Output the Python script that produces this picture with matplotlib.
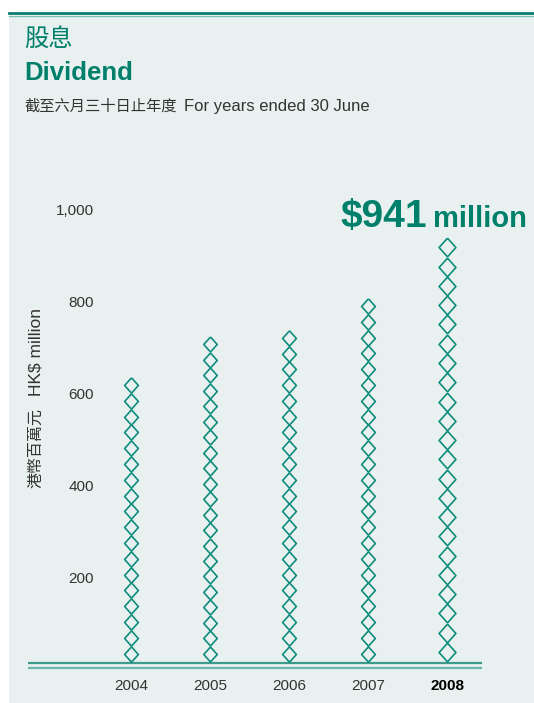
import numpy as np
import matplotlib
matplotlib.use("Agg")
import matplotlib.pyplot as plt
from matplotlib.patches import Rectangle
from matplotlib.lines import Line2D
from matplotlib.transforms import blended_transform_factory

plt.rcParams['font.family'] = ['Liberation Sans', 'Noto Sans CJK TC', 'DejaVu Sans']

# data (HK$ million)
years = ['2004', '2005', '2006', '2007', '2008']
dividend = [638, 726, 741, 810, 941]
yticks = [200, 400, 600, 800, 1000]
ytick_labels = ['200', '400', '600', '800', '1,000']

TEAL = '#00806B'
DIAMOND = '#0F8C7C'
BG = '#E8F1F0'
GREY = '#333333'
CJK = ['Noto Sans CJK TC']

W, H, DPI = 534, 703, 100
fig = plt.figure(figsize=(W / DPI, H / DPI), dpi=DPI)
fig.patch.set_facecolor('white')

# panel background + top rule
fig.add_artist(Rectangle((9 / W, 0), 1, (H - 16) / H, transform=fig.transFigure,
                         facecolor=BG, edgecolor='none', zorder=0))
fig.add_artist(Line2D([9 / W, 1], [(H - 13) / H] * 2, transform=fig.transFigure,
                      color='#0B7F6E', lw=2.0))
fig.add_artist(Line2D([9 / W, 1], [(H - 15.8) / H] * 2, transform=fig.transFigure,
                      color='#7FBFB5', lw=1.0))

# titles
fig.text(24 / W, 1 - 39 / H, '股息', color=TEAL, fontsize=17.5, va='center', family=CJK)
fig.text(24 / W, 1 - 80 / H, 'Dividend', color=TEAL, fontsize=18.5, fontweight='bold',
         va='baseline')
fig.text(24 / W, 1 - 111 / H, '截至六月三十日止年度', color=GREY, fontsize=11,
         va='baseline', family=CJK)
fig.text(184 / W, 1 - 111 / H, 'For years ended 30 June', color=GREY, fontsize=12,
         va='baseline')

# axes: zero at y=670.7px, 1000 at y=210.7px; baseline spans x 28..482
ax_left, ax_right = 28, 482
ax_bottom, ax_top = 670.7, 210.7
ax = fig.add_axes([ax_left / W, (H - ax_bottom) / H, (ax_right - ax_left) / W,
                   (ax_bottom - ax_top) / H])
ax.set_facecolor('none')
for s in ax.spines.values():
    s.set_visible(False)

x0px, dx = 131, 79
ax.set_xlim(-(x0px - ax_left) / dx, 4 + (ax_right - (x0px + 4 * dx)) / dx)
ax.set_ylim(0, 1000)

# baseline double rule
ax.axhline(17, color='#3E9A8B', lw=1.6, zorder=1)
ax.axhline(5.5, color='#6DB5A9', lw=1.6, zorder=1)

# diamond stacks
px_per_unit = (ax_bottom - ax_top) / 1000
base = 20
diamond = [(0, 1), (0.9, 0), (0, -1), (-0.9, 0), (0, 1)]
for i, v in enumerate(dividend):
    pitch = 42 if i == len(dividend) - 1 else 34
    n = int(round((v - base) / pitch))
    h = (v - base) / n
    ys = base + h * (np.arange(n) + 0.5)
    ms = h * px_per_unit * 72 / DPI
    ax.plot(np.full(n, i), ys, linestyle='none', marker=diamond, markersize=ms * 0.97,
            markerfacecolor='none', markeredgecolor=DIAMOND, markeredgewidth=1.2,
            zorder=2)

# y tick labels
tr = blended_transform_factory(ax.transAxes, ax.transData)
for t, lab in zip(yticks, ytick_labels):
    ax.text((94 - ax_left) / (ax_right - ax_left), t, lab, transform=tr, ha='right',
            va='center', fontsize=11, color=GREY)
ax.set_yticks([])

# x tick labels
ax.set_xticks(range(len(years)))
ax.set_xticklabels(years, fontsize=11, color=GREY)
ax.tick_params(axis='x', length=0, pad=6)
lbl = ax.get_xticklabels()[-1]
lbl.set_fontweight('bold')
lbl.set_color('black')

# y axis title
fig.text(36 / W, 1 - 448 / H, '港幣百萬元', rotation=90, ha='center', va='center',
         fontsize=11.5, color=GREY, family=CJK)
fig.text(36 / W, 1 - 352 / H, 'HK$ million', rotation=90, ha='center', va='center',
         fontsize=12.5, color=GREY)

# highlight value
ax.text((427 - x0px) / dx, 965, '$941', color=TEAL, fontsize=28, fontweight='bold',
        ha='right', va='baseline')
ax.text((527 - x0px) / dx, 965, 'million', color=TEAL, fontsize=21, fontweight='bold',
        ha='right', va='baseline')

fig.savefig('out.png', dpi=DPI, facecolor=fig.get_facecolor())
